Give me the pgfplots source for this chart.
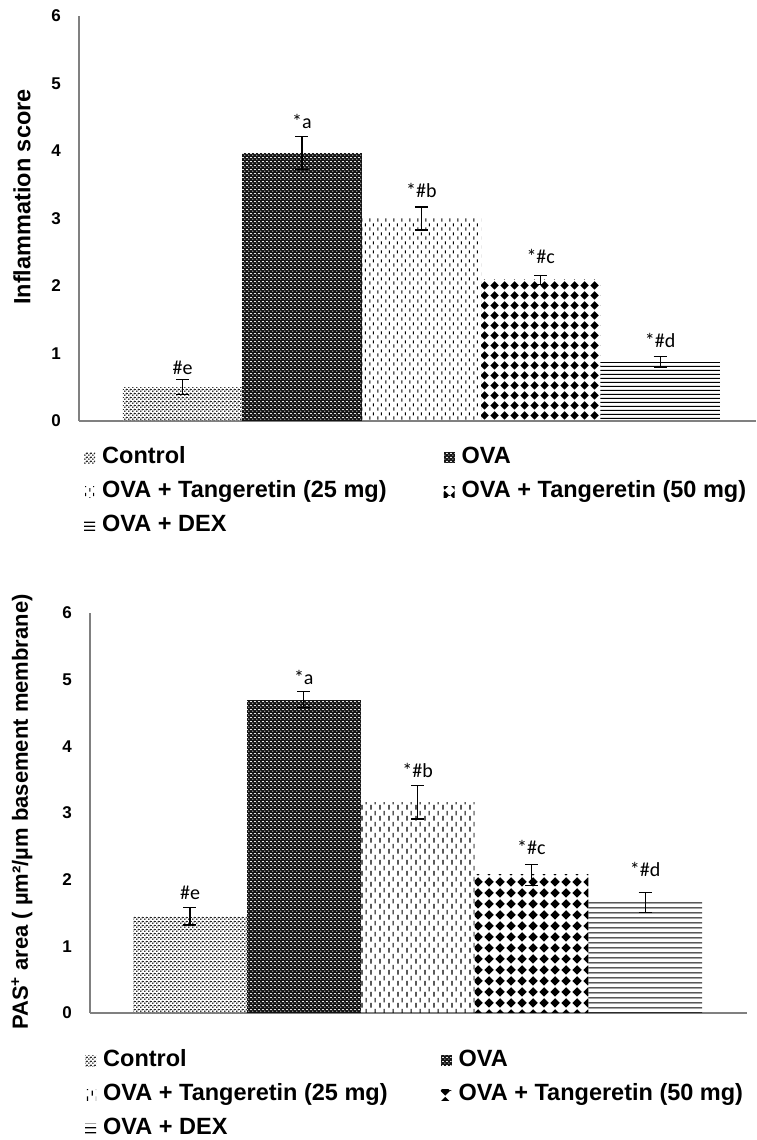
\documentclass[border=0pt]{standalone}
\usepackage{pgfplots}
\pgfplotsset{compat=1.18}
\usepackage{fontspec}
\setmainfont{Liberation Sans}
\newfontfamily\calibri{Carlito}
\usetikzlibrary{patterns.meta}

\tikzdeclarepattern{name=ctrldots, type=colored, bottom left={(0pt,0pt)}, top right={(4pt,4pt)}, tile size={(4pt,4pt)},
  code={\fill[black!85] (1pt,1pt) circle[radius=1.1pt]; \fill[black!85] (3pt,3pt) circle[radius=1.1pt];}}
\tikzdeclarepattern{name=whitedots, type=colored, bottom left={(0pt,0pt)}, top right={(4pt,4pt)}, tile size={(4pt,4pt)},
  code={\fill[white] (1pt,1pt) circle[radius=0.7pt]; \fill[white] (3pt,3pt) circle[radius=0.7pt];}}
\tikzdeclarepattern{name=vdashA, type=colored, bottom left={(0pt,0pt)}, top right={(8pt,9pt)}, tile size={(8pt,9pt)},
  code={\fill[black] (1.5pt,0.5pt) rectangle (2.6pt,4pt); \fill[black] (5.5pt,5pt) rectangle (6.6pt,8.5pt);}}
\tikzdeclarepattern{name=vdashB, type=colored, bottom left={(0pt,0pt)}, top right={(9pt,11pt)}, tile size={(9pt,11pt)},
  code={\fill[black] (1.6pt,0.5pt) rectangle (2.9pt,5.5pt); \fill[black] (6.1pt,6pt) rectangle (7.4pt,11pt);}}
\tikzdeclarepattern{name=diamA, type=colored, bottom left={(0pt,0pt)}, top right={(10pt,10pt)}, tile size={(10pt,10pt)},
  code={\fill[black] (5pt,0.4pt) -- (9.6pt,5pt) -- (5pt,9.6pt) -- (0.4pt,5pt) -- cycle;}}
\tikzdeclarepattern{name=diamB, type=colored, bottom left={(0pt,0pt)}, top right={(11pt,11pt)}, tile size={(11pt,11pt)},
  code={\fill[black] (5.5pt,0.4pt) -- (10.6pt,5.5pt) -- (5.5pt,10.6pt) -- (0.4pt,5.5pt) -- cycle;}}
\tikzdeclarepattern{name=hlineA, type=colored, bottom left={(0pt,0pt)}, top right={(4pt,4pt)}, tile size={(4pt,4pt)},
  code={\fill[black] (0pt,1.4pt) rectangle (4pt,2.7pt);}}
\tikzdeclarepattern{name=hlineB, type=colored, bottom left={(0pt,0pt)}, top right={(4pt,5pt)}, tile size={(4pt,5pt)},
  code={\fill[black] (0pt,1.85pt) rectangle (4pt,3.25pt);}}

\tikzset{lbl/.style={font=\calibri\fontsize{20}{22}\selectfont}}

\pgfplotsset{
  sqlegend/.style={legend image code/.code={\path[##1,draw=none] (0pt,-5.5pt) rectangle (11pt,5.5pt);}},
  myaxis/.style={
    scale only axis, anchor=south west, ymin=0, ymax=6,
    axis x line=bottom, axis y line=left,
    axis line style={-, draw=black!50, line width=1.1pt},
    xtick=\empty, ytick={0,1,2,3,4,5,6}, major tick length=0pt,
    /pgf/number format/assume math mode=true,
    yticklabel style={font=\fontsize{17}{20}\selectfont\bfseries, anchor=east, inner sep=0pt, xshift=-18pt},
    clip=false,
    error bars/y dir=both, error bars/y explicit,
    error bars/error bar style={draw=black, line width=1.2pt},
    error bars/error mark options={draw=black, rotate=90, mark size=6.5pt, line width=1.2pt},
    legend columns=2, legend cell align=left,
  },
  leg/.style={legend style={draw=none, fill=none, inner sep=0pt, row sep=10pt,
    font=\fontsize{23.5}{28}\selectfont\bfseries,
    nodes={inner xsep=1pt, inner ysep=1pt, text height=17pt, text depth=5pt},
    /tikz/every odd column/.append style={column sep=6pt},
    /tikz/every even column/.append style={column sep=#1}}},
}

\begin{document}
\begin{tikzpicture}
\useasboundingbox (0,0) rectangle (756pt,1140pt);

% ---------------- top chart ----------------
\begin{axis}[myaxis,
  at={(79pt,719pt)}, width=677pt, height=405pt,
  xmin=-0.8668, xmax=4.803,
  ylabel={Inflammation score},
  every axis y label/.style={at={(axis description cs:-0.0842,0.553)}, rotate=90, anchor=center, font=\fontsize{23.5}{28}\selectfont\bfseries},
  leg=56pt,
  legend style={at={(axis description cs:0.0074,-0.0605)}, anchor=north west},
]
\addplot[ybar, bar width=1, draw=none, pattern=ctrldots, sqlegend] coordinates {(0,0.50) +- (0,0.11)};
\addlegendentry{Control}
\addplot[ybar, bar width=1, draw=none, fill=black!92, postaction={pattern=whitedots}, sqlegend] coordinates {(1,3.97) +- (0,0.25)};
\addlegendentry{OVA}
\addplot[ybar, bar width=1, draw=none, pattern=vdashA, sqlegend] coordinates {(2,3.00) +- (0,0.17)};
\addlegendentry{OVA + Tangeretin (25 mg)}
\addplot[ybar, bar width=1, draw=none, pattern=diamA, sqlegend] coordinates {(3,2.09) +- (0,0.07)};
\addlegendentry{OVA + Tangeretin (50 mg)}
\addplot[ybar, bar width=1, draw=none, pattern=hlineA, sqlegend] coordinates {(4,0.87) +- (0,0.08)};
\addlegendentry{OVA + DEX}
\node[lbl] at (axis cs:0,0.79) {\#e};
\node[lbl] at (axis cs:1,4.43) {*a};
\node[lbl] at (axis cs:2,3.41) {*\#b};
\node[lbl] at (axis cs:3,2.43) {*\#c};
\node[lbl] at (axis cs:4,1.19) {*\#d};
\end{axis}

% ---------------- bottom chart ----------------
\begin{axis}[myaxis,
  at={(90pt,127pt)}, width=657pt, height=400pt,
  xmin=-0.8787, xmax=4.8946,
  ylabel={PAS\textsuperscript{+} area ( µm²/µm basement membrane)},
  every axis y label/.style={at={(axis description cs:-0.1035,0.5025)}, rotate=90, anchor=center, font=\fontsize{22}{26}\selectfont\bfseries},
  leg=52pt,
  legend style={at={(axis description cs:-0.0076,-0.0888)}, anchor=north west},
]
\addplot[ybar, bar width=1, draw=none, pattern=ctrldots, sqlegend] coordinates {(0,1.45) +- (0,0.13)};
\addlegendentry{Control}
\addplot[ybar, bar width=1, draw=none, fill=black!92, postaction={pattern=whitedots}, sqlegend] coordinates {(1,4.70) +- (0,0.12)};
\addlegendentry{OVA}
\addplot[ybar, bar width=1, draw=none, pattern=vdashB, sqlegend] coordinates {(2,3.16) +- (0,0.25)};
\addlegendentry{OVA + Tangeretin (25 mg)}
\addplot[ybar, bar width=1, draw=none, pattern=diamB, sqlegend] coordinates {(3,2.07) +- (0,0.16)};
\addlegendentry{OVA + Tangeretin (50 mg)}
\addplot[ybar, bar width=1, draw=none, pattern=hlineB, sqlegend] coordinates {(4,1.66) +- (0,0.15)};
\addlegendentry{OVA + DEX}
\node[lbl] at (axis cs:0,1.81) {\#e};
\node[lbl] at (axis cs:1,5.03) {*a};
\node[lbl] at (axis cs:2,3.64) {*\#b};
\node[lbl] at (axis cs:3,2.49) {*\#c};
\node[lbl] at (axis cs:4,2.16) {*\#d};
\end{axis}
\end{tikzpicture}
\end{document}
